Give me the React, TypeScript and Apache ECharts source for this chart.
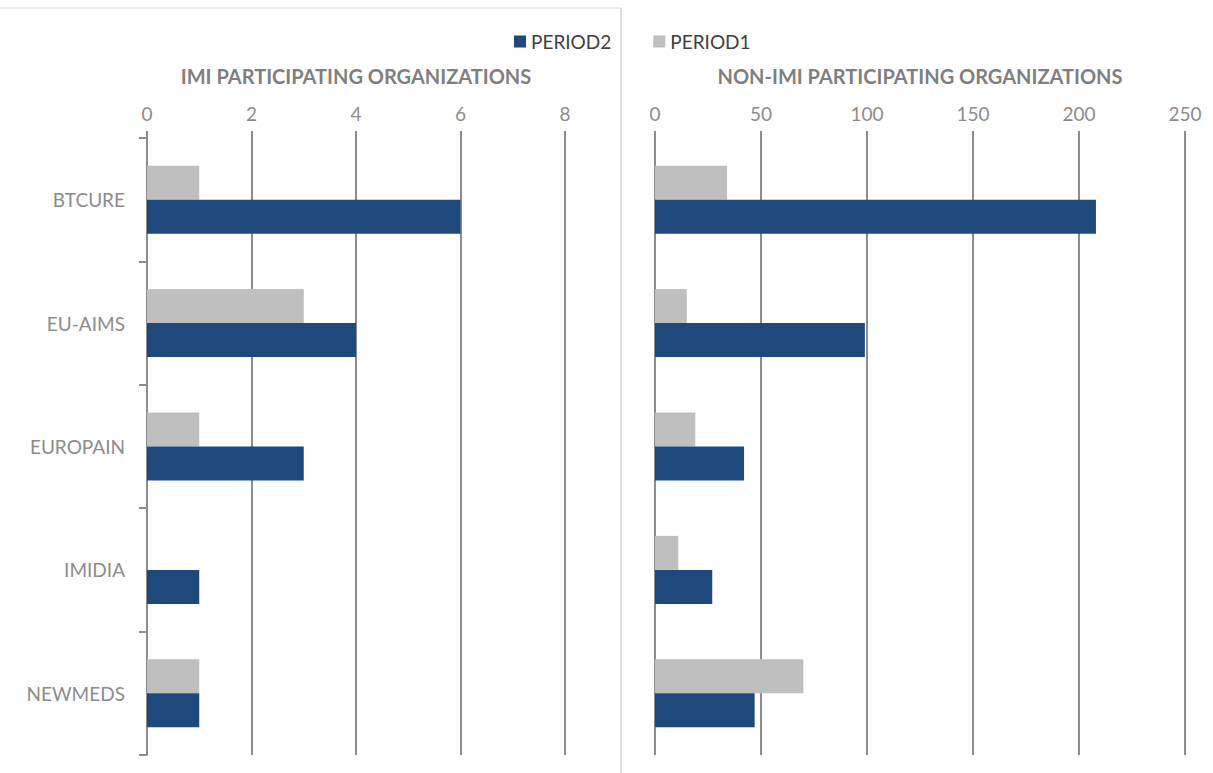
import React, { useEffect, useRef } from "react";
import * as echarts from "echarts";

const categories = ["BTCURE", "EU-AIMS", "EUROPAIN", "IMIDIA", "NEWMEDS"];
const imiPeriod1 = [1, 3, 1, 0, 1];
const imiPeriod2 = [6, 4, 3, 1, 1];
const nonImiPeriod1 = [34, 15, 19, 11, 70];
const nonImiPeriod2 = [208, 99, 42, 27, 47];
const imiTicks = { min: 0, max: 8, interval: 2 };
const nonImiTicks = { min: 0, max: 250, interval: 50 };
const titles = ["IMI PARTICIPATING ORGANIZATIONS", "NON-IMI PARTICIPATING ORGANIZATIONS"];

const BLUE = "#1f497d";
const GRAY = "#bfbfbf";
const GRID = "#8c8c8c";
const FONT = "Lato, 'Liberation Sans', sans-serif";

export default function App() {
  const ref = useRef<HTMLDivElement>(null);
  useEffect(() => {
    if (!ref.current) return;
    const chart = echarts.init(ref.current, null, { renderer: "svg" });
    const valueAxis = (gridIndex: number, t: { min: number; max: number; interval: number }) => ({
      type: "value",
      gridIndex,
      position: "top",
      min: t.min,
      max: t.max,
      interval: t.interval,
      axisLine: { show: false },
      axisTick: { show: true, length: 7, lineStyle: { color: GRID, width: 2 } },
      axisLabel: { color: GRID, fontSize: 19, fontFamily: FONT, margin: 15 },
      splitLine: { show: true, lineStyle: { color: GRID, width: 2 } },
    });
    const barCommon = { type: "bar", barWidth: 34, barGap: "0%" };
    chart.setOption({
      animation: false,
      backgroundColor: "#fff",
      legend: {
        data: ["PERIOD2", "PERIOD1"],
        left: 509,
        top: 27,
        itemWidth: 12,
        itemHeight: 12,
        itemGap: 42,
        icon: "rect",
        textStyle: { color: "#404040", fontSize: 19, fontFamily: FONT },
      },
      grid: [
        { left: 147, top: 138, width: 418, height: 617 },
        { left: 655, top: 138, width: 530, height: 617 },
      ],
      xAxis: [valueAxis(0, imiTicks), valueAxis(1, nonImiTicks)],
      yAxis: [
        {
          type: "category",
          gridIndex: 0,
          data: categories,
          inverse: true,
          axisLine: { show: true, lineStyle: { color: GRID, width: 2 } },
          axisTick: { show: true, length: 8, lineStyle: { color: GRID, width: 2 } },
          axisLabel: { color: GRID, fontSize: 19, fontFamily: FONT, margin: 22 },
        },
        {
          type: "category",
          gridIndex: 1,
          data: categories,
          inverse: true,
          axisLine: { show: false },
          axisTick: { show: false },
          axisLabel: { show: false },
        },
      ],
      graphic: [
        {
          type: "text",
          x: 356,
          y: 76,
          style: {
            text: titles[0],
            fill: "#7f7f7f",
            font: `bold 20px ${FONT}`,
            align: "center",
            verticalAlign: "middle",
          },
        },
        {
          type: "text",
          x: 920,
          y: 76,
          style: {
            text: titles[1],
            fill: "#7f7f7f",
            font: `bold 20px ${FONT}`,
            align: "center",
            verticalAlign: "middle",
          },
        },
        { type: "line", shape: { x1: 0, y1: 8, x2: 621, y2: 8 }, style: { stroke: "#d9d9d9", lineWidth: 1 } },
        { type: "line", shape: { x1: 621, y1: 8, x2: 621, y2: 773 }, style: { stroke: "#bfbfbf", lineWidth: 1 } },
      ],
      series: [
        { ...barCommon, name: "PERIOD1", xAxisIndex: 0, yAxisIndex: 0, data: imiPeriod1, itemStyle: { color: GRAY } },
        { ...barCommon, name: "PERIOD2", xAxisIndex: 0, yAxisIndex: 0, data: imiPeriod2, itemStyle: { color: BLUE } },
        { ...barCommon, name: "PERIOD1", xAxisIndex: 1, yAxisIndex: 1, data: nonImiPeriod1, itemStyle: { color: GRAY } },
        { ...barCommon, name: "PERIOD2", xAxisIndex: 1, yAxisIndex: 1, data: nonImiPeriod2, itemStyle: { color: BLUE } },
      ],
    });
    return () => chart.dispose();
  }, []);
  return <div ref={ref} style={{ position: "fixed", left: 0, top: 0, width: 1213, height: 773 }} />;
}
